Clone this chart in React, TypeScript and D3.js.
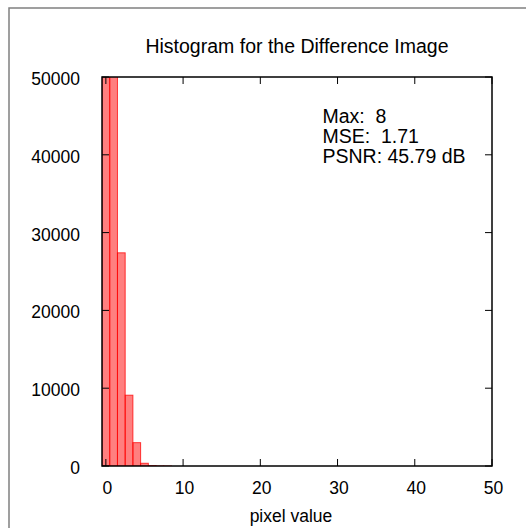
import React from "react";
import * as d3 from "d3";

// Histogram of absolute pixel differences (counts per integer value)
const pixelValues = [0, 1, 2, 3, 4, 5, 6, 7, 8];
const counts = [98000, 121000, 27400, 9100, 3000, 350, 60, 12, 2];
const xTicks = [0, 10, 20, 30, 40, 50];
const yTicks = [0, 10000, 20000, 30000, 40000, 50000];
const statsLines = ["Max:  8", "MSE:  1.71", "PSNR: 45.79 dB"];
const titleText = "Histogram for the Difference Image";
const xLabel = "pixel value";

const W = 526;
const H = 528;
const margin = { left: 102, right: 34, top: 77, bottom: 62 };

export default function App() {
  const x = d3.scaleLinear().domain([-0.5, 50]).range([margin.left, W - margin.right]);
  const y = d3.scaleLinear().domain([0, 50000]).range([H - margin.bottom, margin.top]);
  const [x0, x1] = x.range();
  const [yb, yt] = y.range();
  const font = "'Liberation Sans', Arial, Helvetica, sans-serif";
  const tick = 7;

  return (
    <svg
      width={W}
      height={H}
      style={{ position: "absolute", left: 0, top: 0, background: "#fff" }}
      fontFamily={font}
    >
      <defs>
        <clipPath id="plot-clip">
          <rect x={x0} y={yt} width={x1 - x0} height={yb - yt} />
        </clipPath>
      </defs>
      {/* outer frame */}
      <rect x={9} y={8} width={W} height={H} fill="none" stroke="#808080" strokeWidth={1.5} />

      <text x={(x0 + x1) / 2} y={53} textAnchor="middle" fontSize={19.5} fill="#000">
        {titleText}
      </text>

      {/* bars */}
      <g clipPath="url(#plot-clip)">
        {pixelValues.map((v, i) => (
          <rect
            key={v}
            x={x(v - 0.5)}
            y={y(counts[i])}
            width={x(v + 0.5) - x(v - 0.5)}
            height={yb - y(counts[i])}
            fill="rgba(255,0,0,0.5)"
            stroke="rgba(255,0,0,0.75)"
            strokeWidth={1}
          />
        ))}
      </g>

      {/* ticks (mirrored inside on all sides) */}
      <g stroke="#000" strokeWidth={1}>
        {xTicks.map((t) => (
          <g key={t}>
            <line x1={x(t)} x2={x(t)} y1={yb} y2={yb - tick} />
            <line x1={x(t)} x2={x(t)} y1={yt} y2={yt + tick} />
          </g>
        ))}
        {yTicks.map((t) => (
          <g key={t}>
            <line x1={x0} x2={x0 + tick} y1={y(t)} y2={y(t)} />
            <line x1={x1} x2={x1 - tick} y1={y(t)} y2={y(t)} />
          </g>
        ))}
      </g>

      <rect x={x0} y={yt} width={x1 - x0} height={yb - yt} fill="none" stroke="#000" strokeWidth={1.5} />

      {xTicks.map((t) => (
        <text key={t} x={x(t) + 1.5} y={yb + 28} textAnchor="middle" fontSize={17.5} fill="#000">
          {t}
        </text>
      ))}
      {yTicks.map((t) => (
        <text key={t} x={x0 - 22} y={y(t) + 8} textAnchor="end" fontSize={17.5} fill="#000">
          {t}
        </text>
      ))}

      <text x={(x0 + x1) / 2 - 6} y={yb + 56} textAnchor="middle" fontSize={17.5} fill="#000">
        {xLabel}
      </text>

      {statsLines.map((s, i) => (
        <text key={s} x={322.5} y={123 + i * 20} fontSize={19.5} fill="#000" style={{ whiteSpace: "pre" }}>
          {s}
        </text>
      ))}
    </svg>
  );
}
